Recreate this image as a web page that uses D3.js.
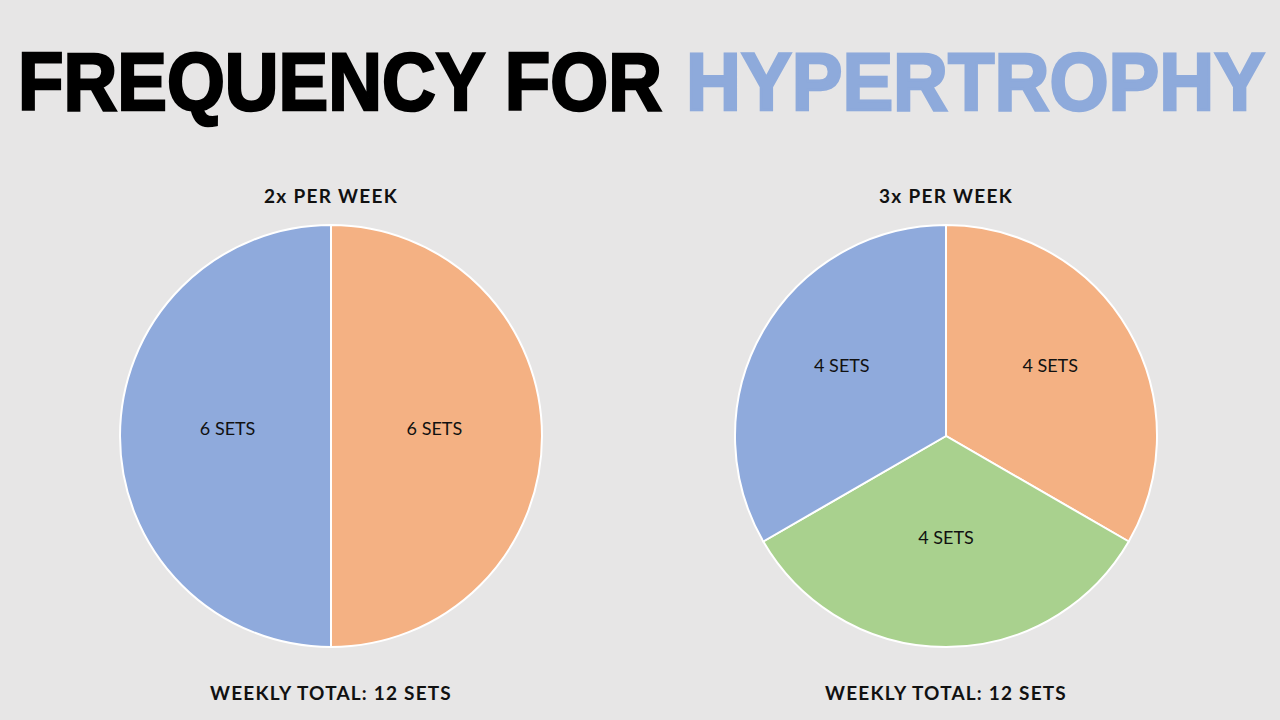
<!DOCTYPE html>
<html>
<head>
<meta charset="utf-8">
<script src="https://cdn.jsdelivr.net/npm/d3@7"></script>
<style>
  html, body { margin: 0; padding: 0; background: #e7e6e6; }
  svg { display: block; }
</style>
</head>
<body>
<div id="chart"></div>
<script>
var w = 1280;
var h = 720;

// data
var titleParts = ["FREQUENCY FOR", "HYPERTROPHY"];
var chartTitles = ["2x PER WEEK", "3x PER WEEK"];
var totals = ["WEEKLY TOTAL: 12 SETS", "WEEKLY TOTAL: 12 SETS"];
var sessions2x = ["Session 2", "Session 1"];
var sets2x = [6, 6];
var sessions3x = ["Session 2", "Session 3", "Session 1"];
var sets3x = [4, 4, 4];

var colorScale = d3.scaleOrdinal()
  .domain(["Session 1", "Session 2", "Session 3"])
  .range(["#8faadc", "#f4b183", "#a9d18e"]);

var radius = 211;
var centers = [[331, 436], [946, 436]];
// label placement: fraction of radius + small vertical nudge
var labelFrac = [[0.49, 0.49], [0.57, 0.48, 0.57]];
var labelNudge = [[-7, -7], [-10, 0, -10]];

var svg = d3.select("#chart").append("svg")
  .attr("width", w)
  .attr("height", h);

svg.append("rect")
  .attr("width", w)
  .attr("height", h)
  .attr("fill", "#e7e6e6");

// main title (two pieces, second one blue)
var titleSpots = [[18, 644, "#000"], [686, 579, "#8eaadb"]];
titleParts.forEach(function(t, i) {
  svg.append("text")
    .attr("transform", "translate(" + titleSpots[i][0] + ",110) scale(1,1.05)")
    .attr("textLength", titleSpots[i][1])
    .attr("lengthAdjust", "spacingAndGlyphs")
    .attr("font-family", "'Liberation Sans', Arial, sans-serif")
    .attr("font-weight", "bold")
    .attr("font-size", 78)
    .attr("fill", titleSpots[i][2])
    .attr("stroke", titleSpots[i][2])
    .attr("stroke-width", 2.5)
    .text(t);
});

var pie = d3.pie().sort(null).value(function(d) { return d.value; });
var arc = d3.arc().innerRadius(0).outerRadius(radius);

var datasets = [
  sessions2x.map(function(s, i) { return {name: s, value: sets2x[i]}; }),
  sessions3x.map(function(s, i) { return {name: s, value: sets3x[i]}; })
];

datasets.forEach(function(data, k) {
  var g = svg.append("g")
    .attr("transform", "translate(" + centers[k][0] + "," + centers[k][1] + ")");

  var arcs = pie(data);

  g.selectAll("path")
    .data(arcs)
    .enter()
    .append("path")
    .attr("d", arc)
    .attr("fill", function(d) { return colorScale(d.data.name); })
    .attr("stroke", "#ffffff")
    .attr("stroke-width", 2);

  g.selectAll("text.lbl")
    .data(arcs)
    .enter()
    .append("text")
    .attr("class", "lbl")
    .attr("transform", function(d, i) {
      var r = radius * labelFrac[k][i];
      var a = (d.startAngle + d.endAngle) / 2;
      return "translate(" + (Math.sin(a) * r) + "," + (-Math.cos(a) * r + labelNudge[k][i]) + ")";
    })
    .attr("text-anchor", "middle")
    .attr("dy", "0.35em")
    .attr("font-family", "Lato, 'Noto Sans', sans-serif")
    .attr("font-size", 18)
    .attr("fill", "#111")
    .text(function(d) { return d.data.value + " SETS"; });

  g.append("text")
    .attr("x", 0)
    .attr("y", -240)
    .attr("text-anchor", "middle")
    .attr("dy", "0.35em")
    .attr("font-family", "Lato, 'Noto Sans', sans-serif")
    .attr("font-weight", "bold")
    .attr("font-size", 19)
    .attr("letter-spacing", 1.3)
    .attr("fill", "#111")
    .text(chartTitles[k]);

  g.append("text")
    .attr("x", 0)
    .attr("y", 257)
    .attr("text-anchor", "middle")
    .attr("dy", "0.35em")
    .attr("font-family", "Lato, 'Noto Sans', sans-serif")
    .attr("font-weight", "bold")
    .attr("font-size", 19)
    .attr("letter-spacing", 1.2)
    .attr("fill", "#111")
    .text(totals[k]);
});
</script>
</body>
</html>
